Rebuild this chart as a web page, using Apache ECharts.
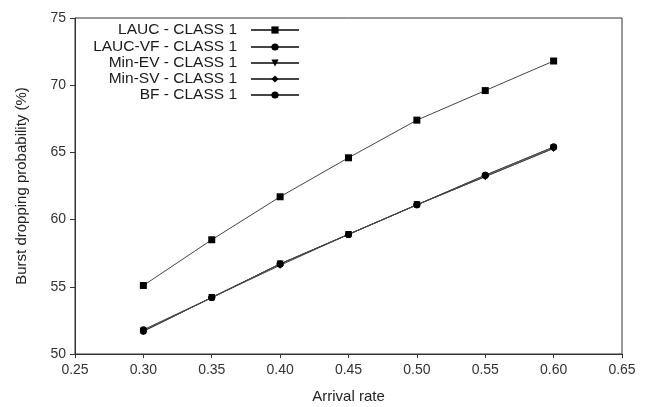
<!DOCTYPE html>
<html>
<head>
<meta charset="utf-8">
<script src="https://cdn.jsdelivr.net/npm/echarts@6/dist/echarts.min.js"></script>
<style>html,body{margin:0;padding:0;background:#fff}#c{width:649px;height:407px}</style>
</head>
<body>
<div id="c"></div>
<script>
const xValues = [0.30, 0.35, 0.40, 0.45, 0.50, 0.55, 0.60];
const seriesNames = ['LAUC - CLASS 1', 'LAUC-VF - CLASS 1', 'Min-EV - CLASS 1', 'Min-SV - CLASS 1', 'BF - CLASS 1'];
const laucValues = [55.1, 58.5, 61.7, 64.6, 67.4, 69.6, 71.8];
const laucVfValues = [51.7, 54.2, 56.7, 58.9, 61.1, 63.3, 65.4];
const minEvValues = [51.7, 54.2, 56.7, 58.9, 61.1, 63.2, 65.3];
const minSvValues = [51.7, 54.2, 56.6, 58.9, 61.1, 63.2, 65.3];
const bfValues = [51.8, 54.2, 56.7, 58.9, 61.1, 63.3, 65.4];
const allValues = [laucValues, laucVfValues, minEvValues, minSvValues, bfValues];
const symbols = ['rect', 'circle', 'triangle', 'diamond', 'circle'];
const symbolRotate = [0, 0, 180, 0, 0];

const font = 'Liberation Sans, Arial, sans-serif';
const chart = echarts.init(document.getElementById('c'), null, {renderer: 'canvas'});

const legendCenters = [31, 48, 64, 80, 96];
const legends = seriesNames.map((n, i) => ({
  data: [n],
  orient: 'vertical',
  align: 'right',
  right: 349,
  top: legendCenters[i] - 9,
  itemWidth: 48,
  itemHeight: 9,
  padding: 0,
  selectedMode: false,
  textStyle: {fontFamily: font, fontSize: 15.5, color: '#1a1a1a', padding: [0, 9, 0, 0]}
}));

const series = seriesNames.map((n, i) => ({
  name: n,
  type: 'line',
  data: xValues.map((x, j) => [x, allValues[i][j]]),
  symbol: symbols[i],
  symbolRotate: symbolRotate[i],
  symbolSize: 7,
  showSymbol: true,
  itemStyle: {color: '#000'},
  lineStyle: {color: '#444', width: 1},
  animation: false
}));

chart.setOption({
  animation: false,
  backgroundColor: '#fff',
  legend: legends,
  grid: {left: 75, right: 27, top: 18, bottom: 53, outerBoundsMode: 'none', containLabel: false, show: true, borderColor: '#333', borderWidth: 1, backgroundColor: 'transparent'},
  xAxis: {
    type: 'value', min: 0.25, max: 0.65, interval: 0.05,
    name: 'Arrival rate', nameLocation: 'middle', nameGap: 35,
    nameTextStyle: {fontFamily: font, fontSize: 15, color: '#222'},
    axisLine: {lineStyle: {color: '#333', width: 1}},
    axisTick: {show: true, inside: false, length: 4, lineStyle: {color: '#333'}},
    axisLabel: {fontFamily: font, fontSize: 14, color: '#333', margin: 9, formatter: v => v.toFixed(2)},
    splitLine: {show: false}
  },
  yAxis: {
    type: 'value', min: 50, max: 75, interval: 5,
    name: 'Burst dropping probability (%)', nameLocation: 'middle', nameGap: 46,
    nameTextStyle: {fontFamily: font, fontSize: 15, color: '#222'},
    axisLine: {show: true, lineStyle: {color: '#333', width: 1}},
    axisTick: {show: true, inside: false, length: 5, lineStyle: {color: '#333'}},
    axisLabel: {fontFamily: font, fontSize: 14, color: '#333', margin: 9},
    splitLine: {show: false}
  },
  series: series
});
</script>
</body>
</html>
